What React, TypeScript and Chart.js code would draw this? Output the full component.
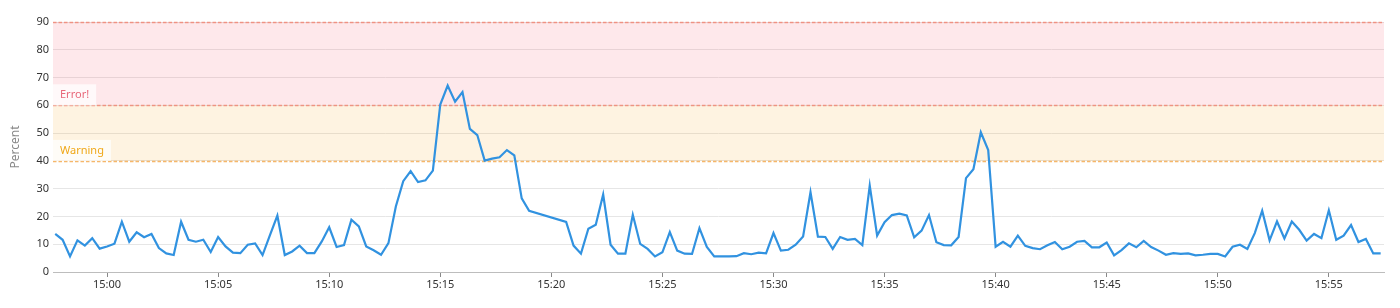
import React, { useEffect, useRef } from 'react';
import { Chart, registerables } from 'chart.js';

Chart.register(...registerables);

// seconds relative to 15:00:00 of the first sample, and sample spacing
const startSecond = -140;
const stepSeconds = 20;

// CPU percent, one value per 20 s sample (null = missing sample)
const cpuPercent: (number | null)[] = [
  13.7, 11.6, 5.6, 11.4, 9.5, 12.2, 8.4, 9.2, 10.2, 18.1,
  10.9, 14.3, 12.5, 13.7, 8.6, 6.7, 6.1, 18.1, 11.6, 10.9,
  11.6, 7.2, 12.6, 9.2, 7.0, 6.8, 9.8, 10.3, 6.1, 13.3,
  20.3, 6.1, 7.4, 9.5, 6.8, 6.8, 11.0, 16.1, 9.0, 9.7,
  18.8, 16.4, 9.2, 7.8, 6.2, 10.4, 23.6, 32.7, 36.3, 32.4,
  33.0, 36.5, 60.3, 67.1, 61.3, 64.8, 51.5, 49.3, 40.1, 40.8,
  41.3, 43.9, 42.0, 26.5, 22.0, null, null, null, null, 18.0,
  9.5, 6.6, 15.6, 17.0, 27.9, 9.8, 6.6, 6.6, 20.6, 10.1,
  8.3, 5.6, 7.1, 14.4, 7.7, 6.6, 6.5, 15.8, 9.0, 5.6,
  5.6, 5.6, 5.7, 6.8, 6.4, 7.0, 6.7, 14.0, 7.7, 8.0,
  9.8, 12.8, 28.7, 12.7, 12.6, 8.3, 12.6, 11.6, 11.9, 9.7,
  31.1, 13.1, 17.9, 20.5, 21.0, 20.4, 12.5, 14.9, 20.5, 10.7,
  9.7, 9.6, 12.6, 33.8, 37.0, 50.3, 43.9, 9.1, 10.9, 9.1,
  13.1, 9.4, 8.6, 8.2, 9.6, 10.8, 8.2, 9.1, 10.9, 11.2,
  8.9, 8.9, 10.6, 6.0, 7.9, 10.3, 8.9, 11.2, 9.0, 7.7,
  6.2, 6.8, 6.5, 6.7, 6.0, 6.2, 6.5, 6.5, 5.6, 9.1,
  9.8, 8.3, 14.0, 22.1, 11.4, 18.2, 12.1, 18.2, 15.2, 11.3,
  13.7, 12.2, 22.2, 11.6, 13.1, 16.9, 10.8, 11.9, 6.7, 6.7,
];

const timeSeconds = cpuPercent.map((_, i) => startSecond + i * stepSeconds);

const xTickSeconds = [0, 300, 600, 900, 1200, 1500, 1800, 2100, 2400, 2700, 3000, 3300];
const xTickLabels = ['15:00', '15:05', '15:10', '15:15', '15:20', '15:25', '15:30', '15:35', '15:40', '15:45', '15:50', '15:55'];

const bandLabels = ['Error!', 'Warning'];
const bandFrom = [60, 40];
const bandTo = [90, 60];
const bandFill = ['rgba(250, 80, 100, 0.13)', 'rgba(245, 170, 40, 0.14)'];
const bandLine = ['rgba(240, 130, 110, 0.8)', 'rgba(245, 170, 80, 0.85)'];
const bandText = ['#e8687a', '#f0a818'];

const bandsPlugin = {
  id: 'bands',
  beforeDatasetsDraw(chart: any) {
    const { ctx, chartArea: a, scales } = chart;
    const y = scales.y;
    ctx.save();
    for (let i = 0; i < bandLabels.length; i++) {
      const yTop = y.getPixelForValue(bandTo[i]);
      const yBot = y.getPixelForValue(bandFrom[i]);
      ctx.fillStyle = bandFill[i];
      ctx.fillRect(a.left, yTop, a.right - a.left, yBot - yTop);
    }
    ctx.lineWidth = 1.5;
    ctx.setLineDash([3.5, 2]);
    const dashed: [number, string][] = [
      [bandTo[0], bandLine[0]],
      [bandFrom[0], bandLine[0]],
      [bandFrom[1], bandLine[1]],
    ];
    for (const [v, c] of dashed) {
      const py = Math.round(y.getPixelForValue(v)) + 0.5;
      ctx.strokeStyle = c;
      ctx.beginPath();
      ctx.moveTo(a.left, py);
      ctx.lineTo(a.right, py);
      ctx.stroke();
    }
    ctx.setLineDash([]);
    ctx.font = "11px 'Noto Sans', sans-serif";
    ctx.textBaseline = 'middle';
    ctx.textAlign = 'left';
    for (let i = 0; i < bandLabels.length; i++) {
      const yBot = y.getPixelForValue(bandFrom[i]);
      const w = ctx.measureText(bandLabels[i]).width + 14;
      const h = 21;
      ctx.fillStyle = 'rgba(255,255,255,0.75)';
      ctx.fillRect(a.left, yBot - h, w, h);
      ctx.fillStyle = bandText[i];
      ctx.fillText(bandLabels[i], a.left + 7, yBot - h / 2);
    }
    ctx.restore();
  },
};

export default function App() {
  const canvasRef = useRef<HTMLCanvasElement | null>(null);

  useEffect(() => {
    if (!canvasRef.current) return;
    Chart.defaults.font.family = "'Noto Sans', sans-serif";
    const chart = new Chart(canvasRef.current, {
      type: 'line',
      data: {
        datasets: [
          {
            label: 'Percent',
            data: cpuPercent.map((v, i) => ({ x: timeSeconds[i], y: v })) as any,
            borderColor: '#3192e0',
            borderWidth: 2.2,
            pointRadius: 0,
            tension: 0,
            fill: false,
            spanGaps: true,
          },
        ],
      },
      options: {
        animation: false,
        responsive: false,
        maintainAspectRatio: false,
        layout: { padding: { top: 22, right: 16, bottom: 0, left: 0 } },
        plugins: { legend: { display: false }, tooltip: { enabled: false } },
        scales: {
          x: {
            type: 'linear',
            min: -146,
            max: 3449,
            afterBuildTicks: (s: any) => {
              s.ticks = xTickSeconds.map((v) => ({ value: v }));
            },
            afterFit: (s: any) => {
              s.height = 36;
            },
            ticks: {
              autoSkip: false,
              maxRotation: 0,
              padding: 1,
              color: '#333',
              font: { size: 11 },
              callback: (v: any) => {
                const idx = xTickSeconds.indexOf(Number(v));
                return idx >= 0 ? xTickLabels[idx] : '';
              },
            },
            grid: { drawOnChartArea: false, drawTicks: true, tickLength: 5, tickColor: '#888' },
            border: { display: true, color: '#bdbdbd' },
          },
          y: {
            min: 0,
            max: 90,
            afterFit: (s: any) => {
              s.width = 53;
            },
            ticks: { stepSize: 10, padding: 4, color: '#333', font: { size: 11 } },
            grid: { color: '#e6e6e6', drawTicks: false },
            border: { display: false },
            title: {
              display: true,
              text: 'Percent',
              color: '#8a8a8a',
              font: { size: 12 },
              padding: { top: 8, bottom: 0 },
            },
          },
        },
      },
      plugins: [bandsPlugin],
    });
    return () => chart.destroy();
  }, []);

  return (
    <div style={{ position: 'absolute', left: 0, top: 0, width: 1400, height: 308 }}>
      <canvas ref={canvasRef} width={1400} height={308} />
    </div>
  );
}
